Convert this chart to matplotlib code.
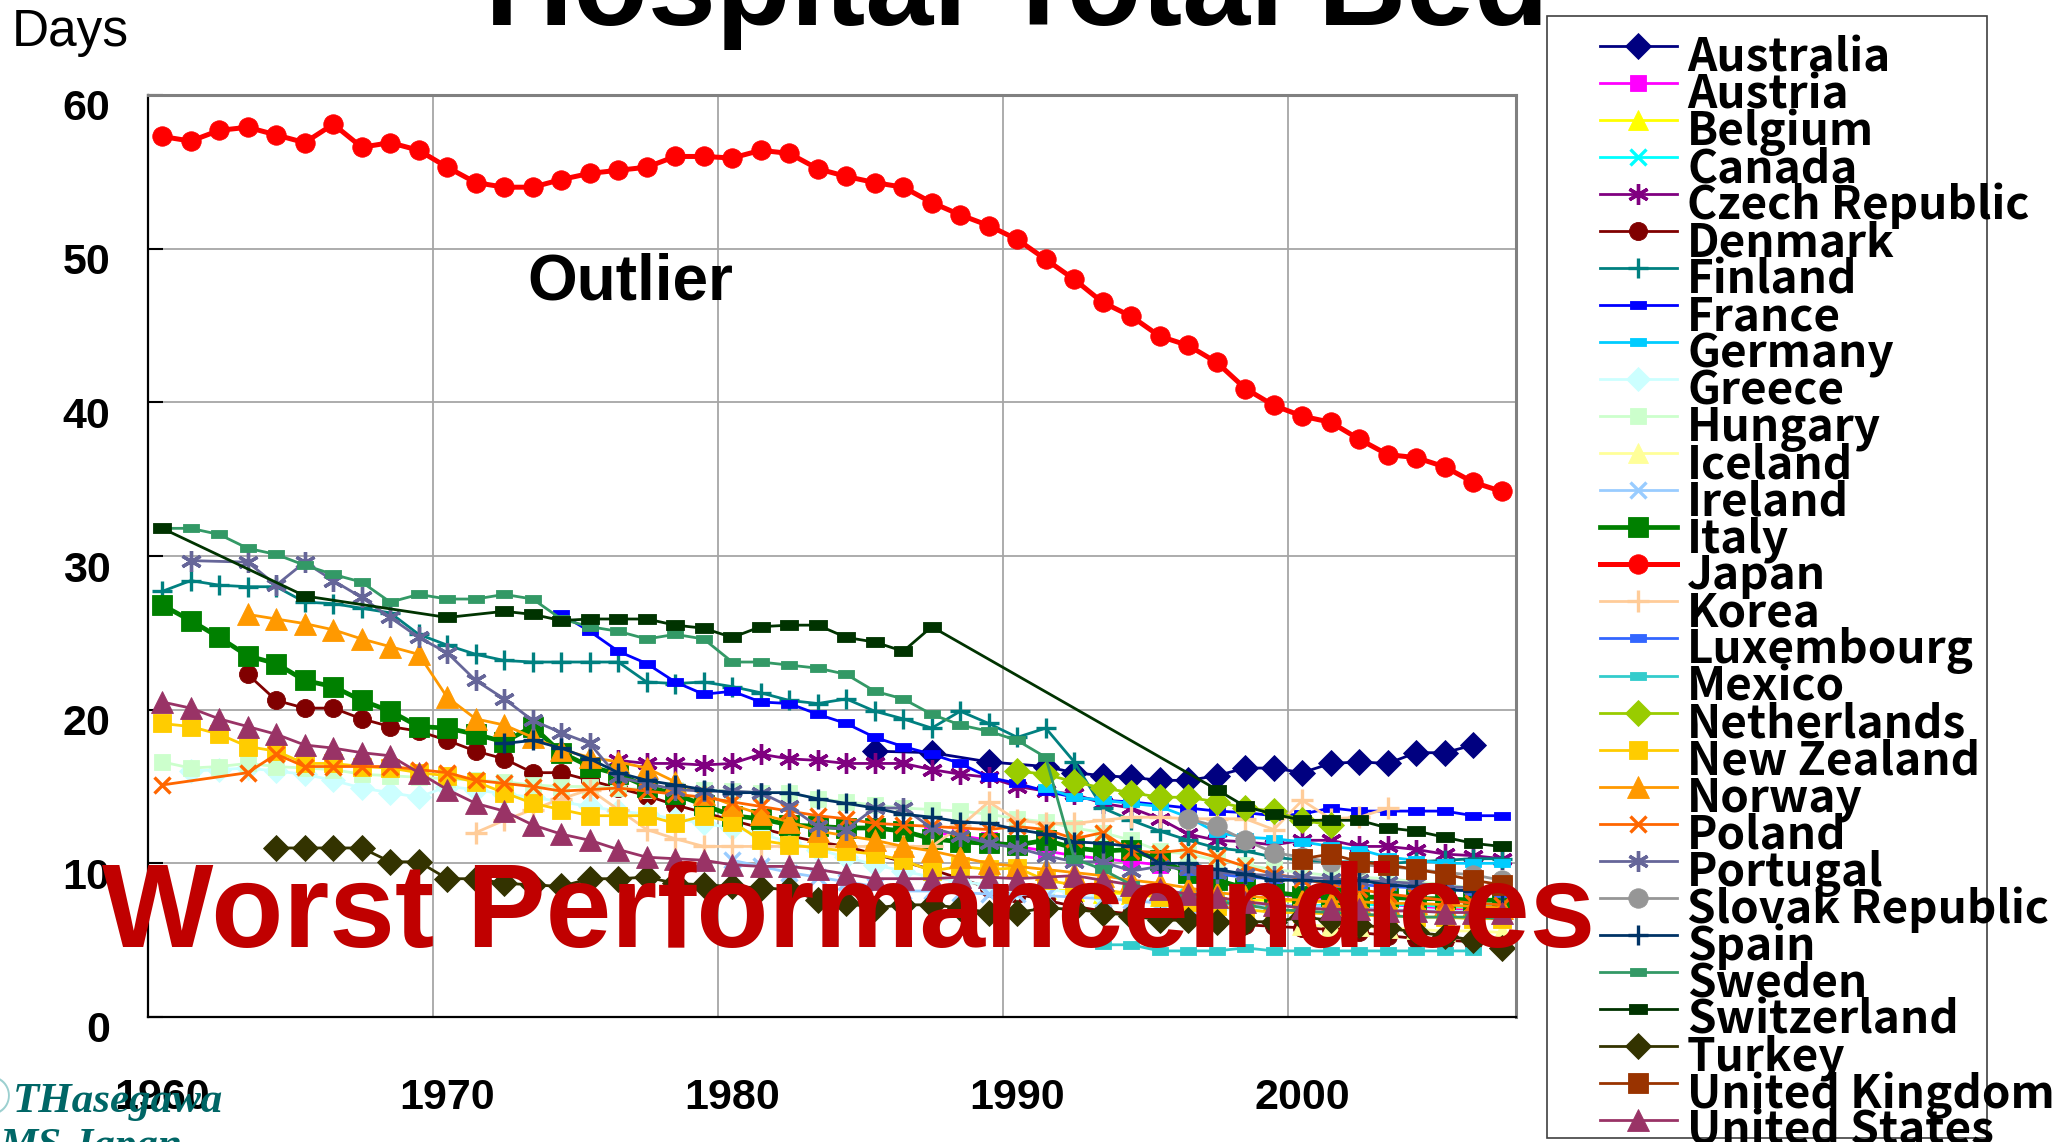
import numpy as np
import matplotlib
matplotlib.use('Agg')
import matplotlib.pyplot as plt
from matplotlib.path import Path
from matplotlib.patches import Rectangle
from matplotlib.transforms import ScaledTranslation
from matplotlib import font_manager


def yrs(a, b):
    return list(range(a, b + 1))


# ---- data (days) ----
australia_x = [1985, 1987, 1989] + yrs(1991, 2006)
australia = [17.3, 17.2, 16.6, 16.3, 15.9, 15.7, 15.6, 15.4, 15.4, 15.7, 16.2, 16.2,
             15.9, 16.5, 16.6, 16.5, 17.2, 17.2, 17.7]

austria_x = yrs(1987, 2007)
austria = [12.0, 11.8, 11.5, 11.1, 10.8, 10.5, 10.3, 10.1, 9.9, 9.6, 9.0, 8.3, 8.0,
           7.8, 7.7, 7.5, 7.3, 7.2, 7.1, 7.0, 6.9]

belgium_x = yrs(1991, 2007)
belgium = [8.3, 8.2, 8.1, 8.0, 7.9, 7.8, 7.7, 7.6, 7.6, 7.5, 7.5, 7.4, 7.4, 7.3,
           7.2, 7.1, 7.0]

canada_x = yrs(1994, 2007)
canada = [8.1, 8.0, 7.8, 7.6, 7.4, 7.3, 7.2, 7.3, 7.3, 7.3, 7.3, 7.2, 7.2, 7.2]

czech_x = yrs(1976, 2007)
czech = [16.7, 16.5, 16.5, 16.4, 16.5, 17.1, 16.8, 16.7, 16.5, 16.5, 16.5, 16.1,
         15.8, 15.6, 15.0, 14.7, 14.5, 13.9, 13.6, 12.9, 11.9, 11.5, 11.4, 11.2,
         11.5, 11.5, 11.1, 11.1, 10.9, 10.6, 10.5, 10.3]

denmark_x = yrs(1963, 2007)
denmark = [22.3, 20.6, 20.1, 20.1, 19.4, 18.9, 18.6, 18.0, 17.3, 16.8, 15.9, 15.9,
           15.4, 14.9, 14.4, 13.8, 13.3, 12.8, 12.3, 11.8, 11.4, 11.1, 10.6, 10.1,
           9.6, 9.0, 8.4, 8.0, 7.6, 7.2, 6.9, 6.7, 6.5, 6.4, 6.2, 6.0, 5.9, 5.8,
           5.7, 5.5, 5.3, 5.1, 5.0, 4.9, 4.8]

finland_x = yrs(1960, 2007)
finland = [27.7, 28.4, 28.1, 28.0, 28.0, 27.0, 26.9, 26.6, 26.3, 24.9,
           24.2, 23.6, 23.2, 23.1, 23.1, 23.1, 23.1, 21.8, 21.7, 21.8,
           21.5, 21.1, 20.6, 20.4, 20.7, 19.9, 19.4, 18.8, 19.9, 19.1,
           18.2, 18.8, 16.6, 13.6, 12.8, 12.1, 11.5, 11.0, 10.8, 10.4,
           10.2, 10.1, 10.1, 10.0, 10.1, 10.2, 10.3, 10.3]

france_x = yrs(1974, 2007)
france = [26.2, 25.1, 23.8, 23.0, 21.8, 21.0, 21.2, 20.5, 20.4, 19.7, 19.1, 18.2,
          17.6, 17.1, 16.5, 15.6, 15.2, 14.7, 14.3, 14.1, 14.0, 13.8, 13.6, 13.4,
          13.3, 13.1, 13.2, 13.6, 13.4, 13.4, 13.4, 13.4, 13.1, 13.1]

germany_x = yrs(1991, 2007)
germany = [14.9, 14.3, 14.1, 13.9, 13.7, 13.0, 12.0, 11.7, 11.6, 11.4, 11.1, 10.9,
           10.4, 10.2, 10.0, 10.0, 10.0]

greece_x = yrs(1961, 2000)
greece = [16.0, 16.1, 16.2, 16.0, 15.8, 15.4, 14.9, 14.6, 14.3, 15.0, 14.8, 14.5,
          14.3, 14.0, 13.7, 13.4, 13.2, 12.9, 12.6, 12.3, 11.9, 11.4, 10.9, 10.4,
          9.9, 9.5, 9.1, 8.8, 8.6, 8.4, 8.3, 8.1, 7.9, 7.7, 7.5, 7.3, 7.1, 7.0,
          6.9, 6.8]

hungary_x = yrs(1960, 2007)
hungary = [16.6, 16.2, 16.3, 16.5, 16.3, 16.2, 16.1, 15.8, 15.7, 15.6,
           15.5, 15.4, 15.3, 15.1, 15.0, 15.0, 14.9, 14.8, 14.8, 14.8,
           14.7, 14.6, 14.6, 14.2, 14.0, 13.8, 13.6, 13.5, 13.4, 13.2,
           12.9, 12.7, 12.3, 12.0, 11.5, 10.8, 10.6, 10.2, 9.9, 9.6,
           9.4, 9.2, 9.1, 9.0, 8.8, 8.6, 8.4, 8.1]

iceland_x = yrs(2000, 2007)
iceland = [6.0, 5.9, 5.9, 5.8, 5.7, 5.6, 5.6, 5.5]

ireland_x = yrs(1980, 2007)
ireland = [10.2, 9.8, 9.4, 9.1, 8.8, 8.5, 8.2, 8.2, 8.1, 8.0, 8.0, 7.9, 7.8, 7.7,
           7.6, 7.4, 7.3, 7.3, 7.3, 7.3, 7.2, 7.2, 7.1, 7.0, 6.9, 6.9, 6.8, 6.7]

italy_x = yrs(1960, 2007)
italy = [26.8, 25.8, 24.7, 23.5, 23.0, 21.9, 21.5, 20.6, 19.9, 18.9,
         18.8, 18.4, 17.9, 18.9, 17.2, 16.3, 15.8, 15.0, 14.5, 13.8,
         13.1, 12.9, 12.5, 12.4, 12.3, 12.3, 12.1, 11.6, 11.4, 11.3,
         11.2, 11.5, 11.0, 10.8, 10.9, 10.2, 9.4, 8.9, 8.4, 8.1,
         7.9, 7.9, 7.8, 7.8, 7.7, 7.7, 7.6, 7.6]

japan_x = yrs(1960, 2007)
japan = [57.3, 57.0, 57.7, 57.9, 57.4, 56.9, 58.1, 56.6, 56.9, 56.4,
         55.3, 54.3, 54.0, 54.0, 54.5, 54.9, 55.1, 55.3, 56.0, 56.0,
         55.9, 56.4, 56.2, 55.2, 54.7, 54.3, 54.0, 53.0, 52.2, 51.5,
         50.6, 49.3, 48.0, 46.5, 45.6, 44.3, 43.7, 42.6, 40.9, 39.8,
         39.1, 38.7, 37.6, 36.6, 36.4, 35.8, 34.8, 34.2]

korea_x = yrs(1971, 2003)
korea = [12.0, 12.8, 13.5, 14.2, 14.8, 13.5, 12.2, 11.6, 11.1, 11.1, 11.1, 11.1,
         11.1, 11.1, 11.1, 11.1, 11.1, 12.4, 14.0, 12.8, 12.6, 12.6, 12.8, 13.0,
         13.0, 12.9, 12.9, 12.9, 12.2, 14.1, 12.9, 13.0, 13.6]

luxembourg_x = yrs(1996, 2007)
luxembourg = [9.5, 9.3, 9.1, 9.0, 8.9, 8.7, 8.6, 8.5, 8.4, 8.3, 8.2, 8.1]

mexico_x = yrs(1993, 2006)
mexico = [4.7, 4.7, 4.3, 4.3, 4.3, 4.5, 4.3, 4.3, 4.3, 4.3, 4.3, 4.3, 4.3, 4.3]

netherlands_x = yrs(1990, 2001)
netherlands = [16.0, 15.8, 15.3, 14.9, 14.6, 14.3, 14.3, 14.0, 13.6, 13.4, 12.8, 12.5]

nz_x = yrs(1960, 2007)
nz = [19.1, 18.9, 18.4, 17.6, 17.3, 16.5, 16.5, 16.3, 16.2, 15.9,
      15.7, 15.3, 14.6, 13.9, 13.5, 13.1, 13.1, 13.1, 12.6, 13.1,
      12.7, 11.5, 11.2, 11.0, 10.8, 10.6, 10.2, 9.5, 9.8, 9.6,
      9.7, 8.9, 8.6, 8.3, 8.0, 7.8, 7.5, 7.2, 7.0, 6.8,
      6.8, 6.7, 6.6, 6.6, 6.5, 6.5, 6.4, 6.4]

norway_x = yrs(1963, 2007)
norway = [26.2, 25.9, 25.6, 25.2, 24.6, 24.1, 23.6, 20.8, 19.4, 19.0, 18.2, 17.4,
          16.9, 16.6, 16.2, 15.3, 14.5, 13.8, 13.2, 12.7, 12.1, 11.8, 11.5, 11.1,
          10.8, 10.4, 10.0, 9.8, 9.6, 9.4, 9.2, 8.9, 8.7, 8.4, 8.1, 7.9, 7.7,
          7.6, 7.5, 7.5, 7.4, 7.4, 7.3, 7.2, 7.1]

poland_x = [1960] + yrs(1963, 2007)
poland = [15.1, 15.9, 17.1, 16.3, 16.3, 16.3, 16.3, 16.1, 15.9, 15.4, 15.2, 15.0,
          14.7, 14.8, 14.9, 14.7, 14.5, 14.3, 14.0, 13.7, 13.4, 13.1, 12.9, 12.6,
          12.5, 12.4, 12.3, 12.2, 12.4, 12.2, 11.6, 12.0, 10.8, 10.7, 10.9, 10.4,
          9.8, 9.3, 9.0, 8.6, 8.3, 8.0, 7.8, 7.6, 7.4, 7.3]

portugal_x = [1961] + yrs(1963, 2007)
portugal = [29.7, 29.6, 28.1, 29.6, 28.4, 27.3, 26.0, 24.7, 23.7, 21.9, 20.7, 19.3,
            18.5, 17.8, 15.6, 15.2, 14.8, 14.7, 14.7, 14.6, 13.7, 12.4, 12.2, 13.6,
            13.6, 12.3, 11.8, 11.3, 11.0, 10.5, 10.1, 10.1, 9.5, 9.8, 9.6, 9.4,
            9.3, 9.2, 9.1, 9.0, 8.9, 8.8, 8.7, 8.5, 8.4, 8.4]

slovak_x = yrs(1996, 2007)
slovak = [12.9, 12.4, 11.5, 10.7, 10.4, 10.1, 9.9, 9.8, 9.6, 9.4, 9.25, 8.9]

spain_x = yrs(1972, 2007)
spain = [17.8, 18.0, 17.5, 16.8, 15.9, 15.4, 15.1, 14.8, 14.6, 14.6, 14.6, 14.2,
         13.9, 13.6, 13.2, 13.0, 12.7, 12.6, 12.2, 11.9, 11.4, 11.3, 11.1, 10.0,
         10.0, 9.6, 9.3, 8.9, 8.9, 8.8, 8.9, 8.6, 8.5, 8.3, 8.2, 8.1]

sweden_x = yrs(1960, 2007)
sweden = [31.8, 31.8, 31.4, 30.5, 30.1, 29.4, 28.8, 28.3, 27.0, 27.5,
          27.2, 27.2, 27.5, 27.2, 25.9, 25.4, 25.1, 24.6, 24.9, 24.6,
          23.1, 23.1, 22.9, 22.7, 22.3, 21.2, 20.7, 19.7, 19.0, 18.6,
          18.0, 16.9, 10.3, 9.6, 8.6, 8.3, 7.8, 7.5, 7.3, 7.0,
          6.9, 6.8, 6.7, 6.6, 6.5, 6.5, 6.5, 6.4]

swiss_x = [1960, 1965, 1970] + yrs(1972, 1987) + yrs(1997, 2007)
swiss = [31.8, 27.4, 26.0, 26.4, 26.2, 25.8, 25.9, 25.9, 25.9, 25.5, 25.3, 24.7,
         25.4, 25.5, 25.5, 24.7, 24.4, 23.8, 25.4, 14.8, 13.7, 13.2, 12.8, 12.8,
         12.8, 12.3, 12.1, 11.7, 11.3, 11.1]

turkey_x = yrs(1964, 2007)
turkey = [11.0, 11.0, 11.0, 11.0, 10.1, 10.1, 9.0, 9.0, 8.7, 8.6, 8.5, 9.0, 9.0,
          9.1, 8.7, 8.6, 8.5, 8.4, 8.3, 7.6, 7.4, 7.1, 7.3, 7.3, 7.1, 6.8, 6.8,
          7.1, 7.0, 6.8, 6.6, 6.3, 6.3, 6.2, 6.2, 6.2, 6.5, 6.3, 6.0, 5.8, 5.5,
          5.3, 5.0, 4.5]

uk_x = yrs(2000, 2007)
uk = [10.3, 10.6, 10.1, 9.9, 9.6, 9.3, 8.9, 8.6]

us_x = yrs(1960, 2007)
us = [20.5, 20.1, 19.4, 18.9, 18.4, 17.7, 17.5, 17.2, 17.0, 15.9,
      14.8, 13.9, 13.4, 12.5, 11.9, 11.5, 10.9, 10.4, 10.3, 10.2,
      9.9, 9.8, 9.8, 9.6, 9.3, 9.0, 9.0, 9.0, 9.1, 9.1,
      9.0, 9.1, 9.2, 8.9, 8.6, 8.3, 8.0, 7.8, 7.5, 7.3,
      7.1, 7.0, 7.0, 6.9, 6.9, 6.8, 6.8, 6.8]

# ---- styles ----
DASH = Path([(-1, -0.5), (1, -0.5), (1, 0.5), (-1, 0.5), (-1, -0.5)],
            [Path.MOVETO, Path.LINETO, Path.LINETO, Path.LINETO, Path.CLOSEPOLY])
STAR = (6, 2, 0)

series = [
    ('Australia', australia_x, australia, '#000080', 'D', 13, 2.0),
    ('Austria', austria_x, austria, '#FF00FF', 's', 11, 2.0),
    ('Belgium', belgium_x, belgium, '#FFFF00', '^', 14, 2.0),
    ('Canada', canada_x, canada, '#00FFFF', 'x', 11, 2.0),
    ('Czech Republic', czech_x, czech, '#800080', STAR, 15, 2.0),
    ('Denmark', denmark_x, denmark, '#800000', 'o', 13, 2.0),
    ('Finland', finland_x, finland, '#008080', '+', 14, 2.0),
    ('France', france_x, france, '#0000FF', DASH, 11, 2.0),
    ('Germany', germany_x, germany, '#00CCFF', DASH, 12, 2.0),
    ('Greece', greece_x, greece, '#CCFFFF', 'D', 12, 2.0),
    ('Hungary', hungary_x, hungary, '#CCFFCC', 's', 12, 2.0),
    ('Iceland', iceland_x, iceland, '#FFFF99', '^', 14, 2.0),
    ('Ireland', ireland_x, ireland, '#99CCFF', 'x', 11, 2.0),
    ('Italy', italy_x, italy, '#008000', 's', 15, 3.4),
    ('Japan', japan_x, japan, '#FF0000', 'o', 14, 3.6),
    ('Korea', korea_x, korea, '#FFCC99', '+', 16, 2.0),
    ('Luxembourg', luxembourg_x, luxembourg, '#3366FF', DASH, 11, 2.0),
    ('Mexico', mexico_x, mexico, '#33CCCC', DASH, 12, 2.0),
    ('Netherlands', netherlands_x, netherlands, '#99CC00', 'D', 13, 2.0),
    ('New Zealand', nz_x, nz, '#FFCC00', 's', 13, 2.0),
    ('Norway', norway_x, norway, '#FF9900', '^', 16, 2.0),
    ('Poland', poland_x, poland, '#FF6600', 'x', 12, 2.0),
    ('Portugal', portugal_x, portugal, '#666699', STAR, 15, 2.0),
    ('Slovak Republic', slovak_x, slovak, '#969696', 'o', 14, 2.0),
    ('Spain', spain_x, spain, '#003366', '+', 15, 2.0),
    ('Sweden', sweden_x, sweden, '#339966', DASH, 11, 2.0),
    ('Switzerland', swiss_x, swiss, '#003300', DASH, 13, 2.0),
    ('Turkey', turkey_x, turkey, '#333300', 'D', 13, 2.0),
    ('United Kingdom', uk_x, uk, '#993300', 's', 14, 2.0),
    ('United States', us_x, us, '#993366', '^', 16, 2.0),
]
LINE_MARKERS = ('x', '+')

names = {f.name for f in font_manager.fontManager.ttflist}
NARROW = 'Liberation Sans Narrow' if 'Liberation Sans Narrow' in names else 'Liberation Sans'
TICK_SIZE = 36 if NARROW == 'Liberation Sans Narrow' else 31
LEG_FONT = ['Noto Sans CJK JP', 'DejaVu Sans']

W, H = 2054, 1142
fig = plt.figure(figsize=(W / 100, H / 100), dpi=100)
fig.patch.set_facecolor('white')
ax = fig.add_axes([148 / W, 1 - 1017 / H, (1516 - 148) / W, (1017 - 95) / H])


def mstyle(mk):
    if mk in LINE_MARKERS or mk == STAR:
        return dict(mew=2.4)
    return dict(mew=0.6)


for name, xs, ys, color, mk, ms, lw in series:
    ax.plot(xs, ys, color=color, lw=lw, marker=mk, ms=ms, mfc=color, mec=color,
            **mstyle(mk))

ax.set_xlim(1959.5, 2007.5)
ax.set_ylim(0, 60)
ax.set_yticks(range(0, 61, 10))
ax.set_xticks(range(1960, 2001, 10))
ax.set_xticks([1969.5, 1979.5, 1989.5, 1999.5], minor=True)
ax.grid(True, which='major', axis='y', color='#A6A6A6', lw=1.3)
ax.grid(True, which='minor', axis='x', color='#A6A6A6', lw=1.3)
ax.set_axisbelow(True)
ax.tick_params(axis='y', direction='in', length=11, width=1.5, pad=27,
               labelsize=TICK_SIZE)
ax.tick_params(axis='x', which='both', length=0, pad=44, labelsize=TICK_SIZE)
for lab in ax.get_yticklabels() + ax.get_xticklabels():
    lab.set_fontfamily(NARROW)
    lab.set_fontweight('bold')
for lab in ax.get_yticklabels():
    lab.set_transform(lab.get_transform() + ScaledTranslation(0, -0.1, fig.dpi_scale_trans))
for s in ['left', 'bottom']:
    ax.spines[s].set_color('black')
    ax.spines[s].set_linewidth(1.6)
for s in ['top', 'right']:
    ax.spines[s].set_color('#808080')
    ax.spines[s].set_linewidth(2.2)


def fx(px):
    return px / W


def fy(py):
    return 1 - py / H


# title (mostly cut off at the top, partly hidden by the legend)
fig.text(fx(485), fy(25), 'Hospital Total Bed', fontsize=88, fontweight='bold',
         family='Liberation Sans', va='baseline', ha='left', zorder=3)
fig.text(fx(12), fy(46), 'Days', fontsize=37, family='Liberation Sans',
         va='baseline', ha='left')
fig.text(fx(527), fy(300), 'Outlier', fontsize=46, fontweight='bold',
         family='Liberation Sans', va='baseline', ha='left', zorder=10)
fig.text(fx(102), fy(947), 'Worst PerformanceIndices', fontsize=85, fontweight='bold',
         family='Liberation Sans', color='#C00000', va='baseline', ha='left', zorder=10)

# watermark
fig.text(fx(12), fy(1100), '\u00a9', fontsize=40, family='Liberation Serif',
         color='#9CD0D0', va='center', ha='right', zorder=11)
fig.text(fx(13), fy(1112), 'THasegawa', fontsize=31, family='Liberation Serif',
         style='italic', fontweight='bold', color='#006666', va='baseline', ha='left',
         zorder=11)
fig.text(fx(0), fy(1157), 'MS Japan', fontsize=31, family='Liberation Serif',
         style='italic', fontweight='bold', color='#006666', va='baseline', ha='left',
         zorder=11)

# legend box
lax = fig.add_axes([fx(1547), fy(1138), (1987 - 1547) / W, (1138 - 16) / H])
lax.set_zorder(5)
lax.set_xlim(0, 440)
lax.set_ylim(1122, 0)
lax.axis('off')
lax.add_patch(Rectangle((0, 0), 440, 1122, facecolor='white', edgecolor='#404040',
                        lw=1.2, clip_on=False))
for i, (name, xs, ys, color, mk, ms, lw) in enumerate(series):
    y = 30 + i * 37.03
    lax.plot([53, 130], [y, y], color=color, lw=lw, clip_on=False)
    lax.plot([91], [y], color=color, marker=mk, ms=ms, mfc=color, mec=color,
             clip_on=False, **mstyle(mk))
    lax.text(140, y + 25, name, fontsize=33, fontweight='bold', family=LEG_FONT,
             va='baseline', ha='left', clip_on=False)

fig.savefig('out.png', dpi=100, facecolor='white')
